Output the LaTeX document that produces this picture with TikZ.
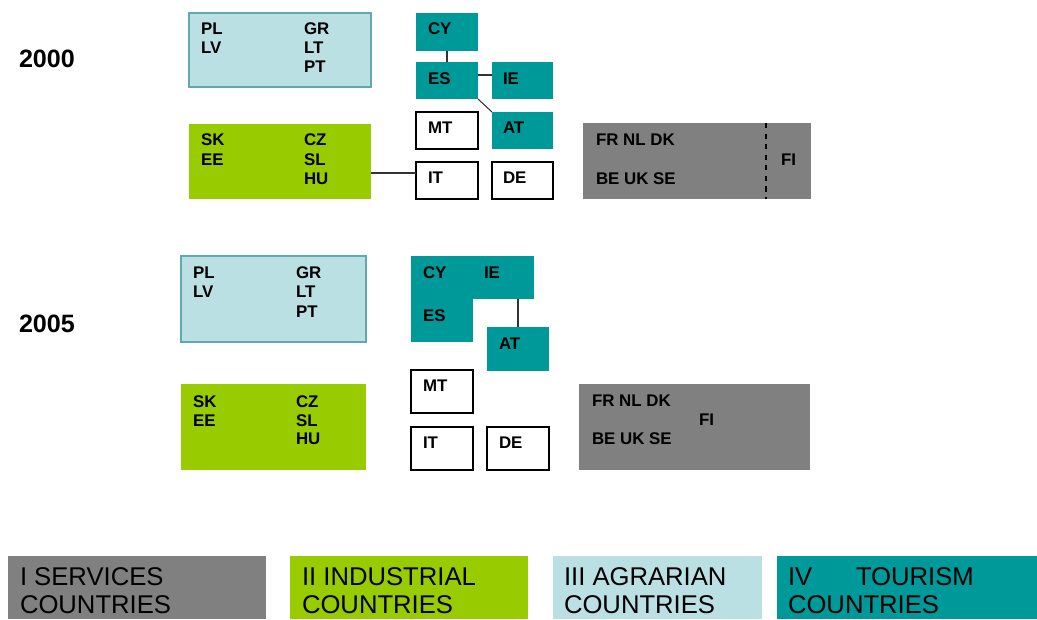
\documentclass[tikz,border=0pt]{standalone}
\usepackage{fontspec}
\setmainfont{Liberation Sans}
\definecolor{tourc}{HTML}{009999}
\definecolor{indc}{HTML}{99CC00}
\definecolor{agrc}{HTML}{BBE0E3}
\definecolor{agrline}{HTML}{5FA9AF}
\definecolor{servc}{HTML}{808080}
\begin{document}
\begin{tikzpicture}[x=0.02cm, y=-0.02cm,
  every node/.style={inner sep=0, outer sep=0},
  box/.style={anchor=north west},
  tour/.style={box, fill=tourc},
  ind/.style={box, fill=indc},
  agr/.style={box, fill=agrc, draw=agrline, line width=.8pt},
  serv/.style={box, fill=servc},
  blank/.style={box, fill=white, draw=black, line width=.6pt},
  lab/.style={anchor=base west, font=\bfseries\fontsize{9.6}{11}\selectfont},
  year/.style={anchor=base west, font=\bfseries\fontsize{14.3}{16}\selectfont},
  leg/.style={anchor=base west, font=\fontsize{14.6}{17}\selectfont},
  link/.style={line width=.6pt, black!80}]
\useasboundingbox (0,0) rectangle (1037,619);
% year 2000
\node[year] (y2000) at (19,67) {2000};
\node[agr, minimum width=3.64cm, minimum height=1.48cm] (agr0) at (189,13) {};
\node[ind, minimum width=3.64cm, minimum height=1.5cm] (ind0) at (189,124) {};
\node[tour, minimum width=1.24cm, minimum height=.76cm] (cy0) at (416,13) {};
\node[tour, minimum width=1.24cm, minimum height=.74cm] (es0) at (416,62) {};
\node[tour, minimum width=1.22cm, minimum height=.74cm] (ie0) at (492,62) {};
\node[blank, minimum width=1.24cm, minimum height=.74cm] (mt0) at (416,112) {};
\node[tour, minimum width=1.22cm, minimum height=.74cm] (at0) at (492,112) {};
\node[blank, minimum width=1.24cm, minimum height=.74cm] (it0) at (416,162) {};
\node[blank, minimum width=1.22cm, minimum height=.74cm] (de0) at (492,162) {};
\node[serv, minimum width=4.56cm, minimum height=1.52cm] (serv0) at (583,123) {};
\coordinate (dash0) at (766,123);
\draw[dashed, line width=.6pt] (dash0) -- (dash0 |- serv0.south);
\draw[link] (cy0.south) -- (es0.north);
\draw[link] ([yshift=.11cm]es0.east) -- ([yshift=.11cm]ie0.west);
\draw[link] (es0.south east) -- (at0.north west);
\draw[link] ([yshift=.15cm]it0.west) -- ([yshift=.15cm]it0.west -| ind0.east);
\node[lab] (pl0) at (201,34) {PL};
\node[lab] (lv0) at (201,53) {LV};
\node[lab] (gr0) at (304,34) {GR};
\node[lab] (lt0) at (304,53) {LT};
\node[lab] (pt0) at (304,72) {PT};
\node[lab] (sk0) at (201,145) {SK};
\node[lab] (ee0) at (201,165) {EE};
\node[lab] (cz0) at (304,145) {CZ};
\node[lab] (sl0) at (304,165) {SL};
\node[lab] (hu0) at (304,184) {HU};
\node[lab] (cyt0) at (428,34) {CY};
\node[lab] (est0) at (428,84) {ES};
\node[lab] (iet0) at (503,84) {IE};
\node[lab] (mtt0) at (428,133) {MT};
\node[lab] (att0) at (503,133) {AT};
\node[lab] (itt0) at (428,183) {IT};
\node[lab] (det0) at (503,183) {DE};
\node[lab] (fr0) at (596,145) {FR NL DK};
\node[lab] (be0) at (596,184) {BE UK SE};
\node[lab] (fi0) at (781,165) {FI};
% year 2005
\node[year] (y2005) at (19,332) {2005};
\node[agr, minimum width=3.7cm, minimum height=1.72cm] (agr5) at (181,256) {};
\node[ind, minimum width=3.7cm, minimum height=1.72cm] (ind5) at (181,384) {};
\node[tour, minimum width=2.46cm, minimum height=.86cm] (tour5) at (411,256) {};
\node[tour, minimum width=1.24cm, minimum height=1.72cm] (es5) at (411,256) {};
\node[tour, minimum width=1.24cm, minimum height=.88cm] (at5) at (487,327) {};
\node[blank, minimum width=1.24cm, minimum height=.86cm] (mt5) at (411,370) {};
\node[blank, minimum width=1.24cm, minimum height=.86cm] (it5) at (411,427) {};
\node[blank, minimum width=1.24cm, minimum height=.86cm] (de5) at (487,427) {};
\node[serv, minimum width=4.62cm, minimum height=1.72cm] (serv5) at (579,384) {};
\draw[link] (at5.north) -- (at5.north |- tour5.south);
\node[lab] (pl5) at (193,278) {PL};
\node[lab] (lv5) at (193,297) {LV};
\node[lab] (gr5) at (296,278) {GR};
\node[lab] (lt5) at (296,297) {LT};
\node[lab] (pt5) at (296,317) {PT};
\node[lab] (sk5) at (193,407) {SK};
\node[lab] (ee5) at (193,426) {EE};
\node[lab] (cz5) at (296,407) {CZ};
\node[lab] (sl5) at (296,426) {SL};
\node[lab] (hu5) at (296,444) {HU};
\node[lab] (cyt5) at (423,278) {CY};
\node[lab] (iet5) at (484,278) {IE};
\node[lab] (est5) at (423,321) {ES};
\node[lab] (att5) at (499,349) {AT};
\node[lab] (mtt5) at (423,391) {MT};
\node[lab] (itt5) at (423,448) {IT};
\node[lab] (det5) at (499,448) {DE};
\node[lab] (fr5) at (592,406) {FR NL DK};
\node[lab] (fi5) at (699,425) {FI};
\node[lab] (be5) at (592,444) {BE UK SE};
% legend
\node[serv, minimum width=5.16cm, minimum height=1.26cm] (lserv) at (8,556) {};
\node[ind, minimum width=4.76cm, minimum height=1.26cm] (lind) at (290,556) {};
\node[agr, draw=none, minimum width=4.18cm, minimum height=1.26cm] (lagr) at (553,556) {};
\node[tour, minimum width=5.2cm, minimum height=1.26cm] (ltour) at (777,556) {};
\node[leg] (lserv1) at (20,585) {I SERVICES};
\node[leg] (lserv2) at (20,613) {COUNTRIES};
\node[leg] (lind1) at (302,585) {II INDUSTRIAL};
\node[leg] (lind2) at (302,613) {COUNTRIES};
\node[leg] (lagr1) at (564,585) {III AGRARIAN};
\node[leg] (lagr2) at (564,613) {COUNTRIES};
\node[leg] (ltour1) at (788,585) {IV};
\node[leg] (ltour2) at (856,585) {TOURISM};
\node[leg] (ltour3) at (788,613) {COUNTRIES};
\end{tikzpicture}
\end{document}
